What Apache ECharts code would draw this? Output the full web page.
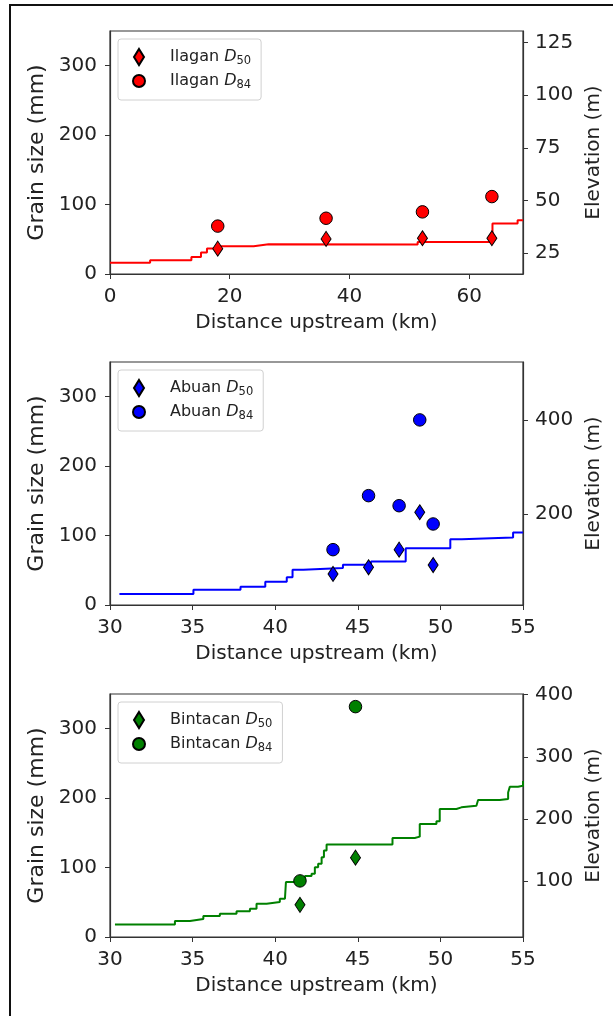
<!DOCTYPE html>
<html>
<head>
<meta charset="utf-8">
<script src="https://cdn.jsdelivr.net/npm/echarts@6/dist/echarts.min.js"></script>
<style>
  html, body { margin: 0; padding: 0; background: #fff; }
  #main { width: 613px; height: 1016px; }
  .frame {
    position: absolute; left: 9px; top: 4px; right: 0; bottom: 0;
    border-left: 2px solid #111; border-top: 2px solid #111;
    pointer-events: none;
  }
</style>
</head>
<body>
<div id="main"></div>
<div class="frame"></div>
<script>
  // Ilagan
  const ilaganKm = [18, 36.1, 52.2, 63.8];
  const ilaganD50 = [36.5, 50.5, 51.5, 51.5];
  const ilaganD84 = [69, 80.3, 89.5, 111.5];
  const ilaganProfileKm = [0, 6.7, 13.6, 15.2, 16.2, 18.2, 24, 26.5, 51.4, 63.9, 68.1, 69];
  const ilaganProfileElev = [20.4, 21.5, 23.1, 25.2, 27.1, 28.2, 29.1, 29.0, 30.2, 39, 40.6, 40.6];

  // Abuan
  const abuanKm = [43.5, 45.65, 47.5, 48.75, 49.56];
  const abuanD50 = [44.7, 54.3, 79.7, 133.6, 57.6];
  const abuanD84 = [79.7, 157.5, 143, 266.6, 116.7];
  const abuanProfileKm = [30.57, 35.05, 37.9, 39.4, 40.7, 41.05, 41.7, 44.1, 45.8, 47.9, 50.6, 51.3, 54.4, 55];
  const abuanProfileElev = [30.4, 39.5, 45.9, 56.5, 65.8, 81.9, 85.5, 92.5, 99.7, 127.9, 147, 150.6, 161, 161];

  // Bintacan
  const bintacanKm = [41.5, 44.86];
  const bintacanD50 = [46.3, 114.3];
  const bintacanD84 = [80.8, 331.8];
  const bintacanProfileKm = [30.3, 33.93, 34.84, 35.65, 36.65, 37.66, 38.47, 38.87, 39.48, 40.28, 40.59, 40.65,
    41.49, 41.8, 42.2, 42.4, 42.6, 42.81, 42.95, 43.11, 47.1, 48.45, 48.75, 49.76, 49.96, 50.97, 51.27,
    52.18, 52.28, 53.59, 54.1, 54.2, 54.7, 55];
  const bintacanProfileElev = [30, 35.9, 39.1, 43.9, 47.6, 51.3, 55.6, 63.6, 66.3, 71.6, 74.4, 98.4,
    101, 108, 111.7, 122.4, 127.7, 138.5, 149, 158.7, 169.4, 171.5, 191.8, 196.2, 215.9, 218.6, 221.2,
    223.9, 230.3, 231.9, 242.6, 251.6, 253.2, 261.2];

  const FONT = 'DejaVu Sans';
  const TXT = '#222';
  const AX = '#333';
  const tops = [31, 362, 694];

  const panels = [
    { river: 'Ilagan', color: '#ff0000', km: ilaganKm, d50: ilaganD50, d84: ilaganD84,
      pKm: ilaganProfileKm, pEl: ilaganProfileElev,
      xMin: 0, xMax: 69, xTicks: [0, 20, 40, 60],
      eMin: 15, eMax: 130.5, eTicks: [25, 50, 75, 100, 125] },
    { river: 'Abuan', color: '#0000ff', km: abuanKm, d50: abuanD50, d84: abuanD84,
      pKm: abuanProfileKm, pEl: abuanProfileElev,
      xMin: 30, xMax: 55, xTicks: [30, 35, 40, 45, 50, 55],
      eMin: 7, eMax: 524, eTicks: [200, 400] },
    { river: 'Bintacan', color: '#008000', km: bintacanKm, d50: bintacanD50, d84: bintacanD84,
      pKm: bintacanProfileKm, pEl: bintacanProfileElev,
      xMin: 30, xMax: 55, xTicks: [30, 35, 40, 45, 50, 55],
      eMin: 10, eMax: 401, eTicks: [100, 200, 300, 400] }
  ];

  const zip = (a, b) => a.map((v, i) => [v, b[i]]);

  const labelStyle = { fontFamily: FONT, fontSize: 20, color: TXT };
  const diamondIcon = 'path://M5,0L10,8L5,16L0,8Z';
  const circleIcon = 'path://M0,0M16,16M8,2A6,6,0,1,1,8,14A6,6,0,1,1,8,2Z';

  const grid = [], xAxis = [], yAxis = [], series = [], legend = [];

  panels.forEach(function (p, i) {
    grid.push({
      left: 110, right: 90, top: tops[i], height: 243,
      show: true, borderColor: AX, borderWidth: 1.2
    });
    xAxis.push({
      gridIndex: i, type: 'value', min: p.xMin, max: p.xMax,
      splitLine: { show: false },
      axisLine: { onZero: false, lineStyle: { color: AX, width: 1.2 } },
      axisTick: { length: 5, customValues: p.xTicks, lineStyle: { color: AX } },
      axisLabel: Object.assign({ customValues: p.xTicks, margin: 13 }, labelStyle),
      name: 'Distance upstream (km)', nameLocation: 'middle', nameGap: 39,
      nameTextStyle: labelStyle
    });
    yAxis.push({
      gridIndex: i, type: 'value', min: 0, max: 350, position: 'left',
      splitLine: { show: false },
      axisLine: { show: true, onZero: false, lineStyle: { color: AX, width: 1.2 } },
      axisTick: { show: true, length: 5, customValues: [0, 100, 200, 300], lineStyle: { color: AX } },
      axisLabel: Object.assign({ customValues: [0, 100, 200, 300], margin: 13 }, labelStyle),
      name: 'Grain size (mm)', nameLocation: 'middle', nameGap: 59,
      nameTextStyle: { fontFamily: FONT, fontSize: 22, color: TXT }
    });
    yAxis.push({
      gridIndex: i, type: 'value', min: p.eMin, max: p.eMax, position: 'right',
      splitLine: { show: false },
      axisLine: { show: true, onZero: false, lineStyle: { color: AX, width: 1.2 } },
      axisTick: { show: true, length: 5, customValues: p.eTicks, lineStyle: { color: AX } },
      axisLabel: Object.assign({ customValues: p.eTicks, margin: 12 }, labelStyle),
      name: 'Elevation (m)', nameLocation: 'middle', nameGap: 56,
      nameTextStyle: labelStyle
    });

    series.push({
      type: 'line', xAxisIndex: i, yAxisIndex: 2 * i + 1,
      data: zip(p.pKm, p.pEl), step: 'end', symbol: 'none', silent: true,
      lineStyle: { color: p.color, width: 2 }, z: 2
    });
    series.push({
      name: p.river + ' D50', type: 'scatter', xAxisIndex: i, yAxisIndex: 2 * i,
      data: zip(p.km, p.d50), symbol: 'diamond', symbolSize: [10, 15],
      itemStyle: { color: p.color, borderColor: '#000', borderWidth: 1, opacity: 1 }, z: 3
    });
    series.push({
      name: p.river + ' D84', type: 'scatter', xAxisIndex: i, yAxisIndex: 2 * i,
      data: zip(p.km, p.d84), symbol: 'circle', symbolSize: 12.5,
      itemStyle: { color: p.color, borderColor: '#000', borderWidth: 1, opacity: 1 }, z: 3
    });

    legend.push({
      left: 118, top: tops[i] + 8, orient: 'vertical',
      data: [
        { name: p.river + ' D50', icon: diamondIcon },
        { name: p.river + ' D84', icon: circleIcon }
      ],
      itemWidth: 24, itemHeight: 16, itemGap: 5,
      padding: [9, 10, 9, 12],
      borderColor: '#d0d0d0', borderWidth: 1, borderRadius: 3,
      backgroundColor: '#fff',
      selectedMode: false,
      formatter: function (name) {
        const parts = name.split(' ');
        return '{n|' + parts[0] + ' }{d|D}{s|' + parts[1].slice(1) + '}';
      },
      textStyle: {
        fontFamily: FONT, fontSize: 16, color: TXT,
        rich: {
          n: { fontFamily: FONT, fontSize: 16, color: TXT, lineHeight: 20, padding: [0, 0, 0, 14] },
          d: { fontFamily: FONT, fontSize: 16, color: TXT, lineHeight: 20, fontStyle: 'italic' },
          s: { fontFamily: FONT, fontSize: 11.5, color: TXT, lineHeight: 12, verticalAlign: 'bottom' }
        }
      }
    });
  });

  const chart = echarts.init(document.getElementById('main'));
  chart.setOption({
    animation: false,
    backgroundColor: '#fff',
    grid: grid,
    xAxis: xAxis,
    yAxis: yAxis,
    legend: legend,
    series: series
  });
</script>
</body>
</html>
